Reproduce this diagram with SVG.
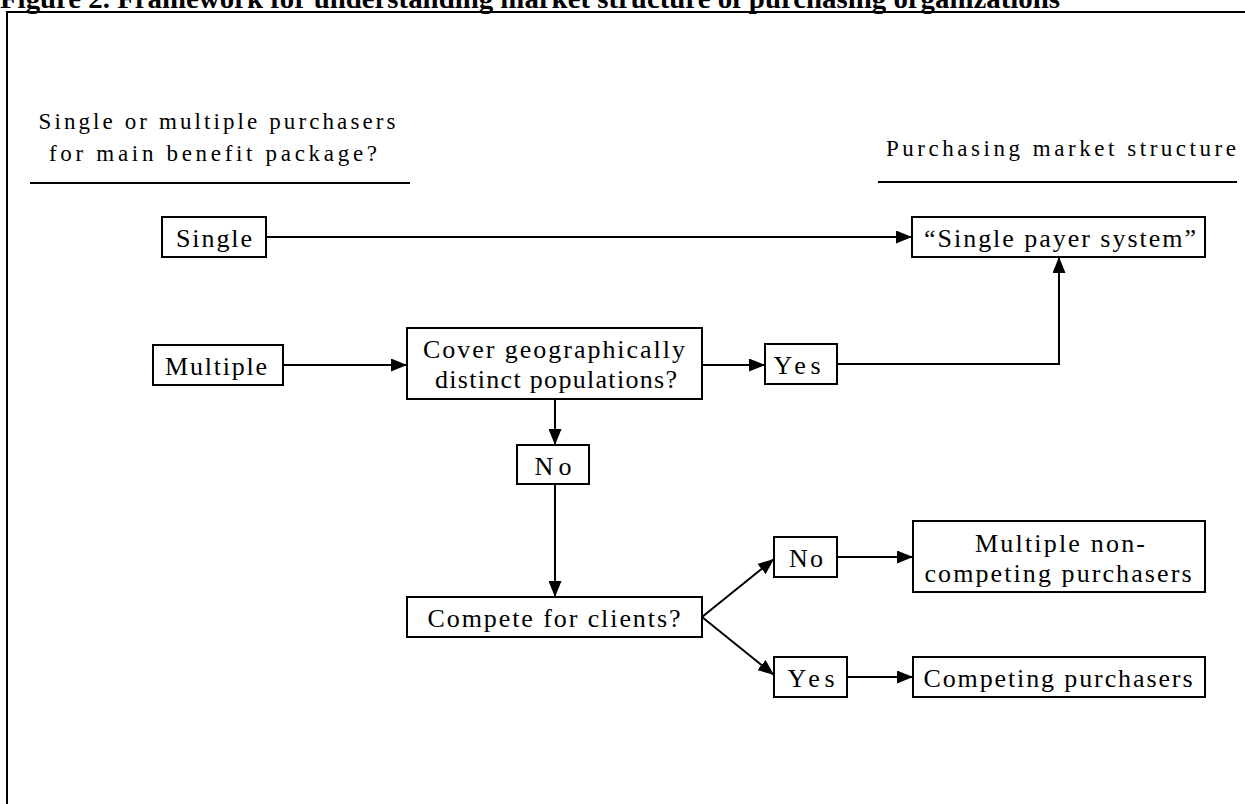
<svg xmlns="http://www.w3.org/2000/svg" width="1245" height="804" viewBox="0 0 1245 804">
<defs>
<style>
.t{font-family:"Liberation Serif","Times New Roman",serif;font-size:26px;fill:#000;text-anchor:middle}
.h{font-size:23px}
.b{fill:#fff;stroke:#000;stroke-width:2}
.c{fill:none;stroke:#000;stroke-width:2}
</style>
<marker id="ah" viewBox="0 0 16 13" refX="16" refY="6.5" markerWidth="16" markerHeight="13" markerUnits="userSpaceOnUse" orient="auto">
<path d="M0,0 L16,6.5 L0,13 Z" fill="#000"/>
</marker>
</defs>
<rect width="1245" height="804" fill="#fff"/>
<text x="0" y="8" style="font-family:'Liberation Serif','Times New Roman',serif;font-size:27px;font-weight:bold" textLength="1060" lengthAdjust="spacingAndGlyphs">Figure 2. Framework for understanding market structure of purchasing organizations</text>
<rect x="7" y="12" width="1260" height="820" class="c"/>
<g id="headings">
<text class="t h" x="217" y="129" textLength="357" lengthAdjust="spacing">Single or multiple purchasers</text>
<text class="t h" x="213" y="161" textLength="328" lengthAdjust="spacing">for main benefit package?</text>
<line x1="30" y1="183" x2="410" y2="183" class="c"/>
<text class="t h" x="1061" y="156" textLength="350" lengthAdjust="spacing">Purchasing market structure</text>
<line x1="878" y1="182" x2="1237" y2="182" class="c"/>
</g>
<g id="connectors">
<line x1="266" y1="237" x2="912" y2="237" class="c" marker-end="url(#ah)"/>
<line x1="283" y1="365" x2="407" y2="365" class="c" marker-end="url(#ah)"/>
<line x1="702" y1="365" x2="765" y2="365" class="c" marker-end="url(#ah)"/>
<polyline points="837,364 1059,364 1059,257" class="c" marker-end="url(#ah)"/>
<line x1="555" y1="399" x2="555" y2="445" class="c" marker-end="url(#ah)"/>
<line x1="555" y1="484" x2="555" y2="597" class="c" marker-end="url(#ah)"/>
<line x1="702" y1="617" x2="774" y2="559" class="c" marker-end="url(#ah)"/>
<line x1="702" y1="617" x2="774" y2="675" class="c" marker-end="url(#ah)"/>
<line x1="837" y1="557" x2="913" y2="557" class="c" marker-end="url(#ah)"/>
<line x1="847" y1="677" x2="913" y2="677" class="c" marker-end="url(#ah)"/>
</g>
<g id="single"><rect x="162" y="217" width="104" height="40" class="b"/><text class="t" x="214" y="247" textLength="76" lengthAdjust="spacing">Single</text></g>
<g id="singlepayer"><rect x="912" y="217" width="293" height="40" class="b"/><text class="t" x="1060" y="247" textLength="272" lengthAdjust="spacing">“Single payer system”</text></g>
<g id="multiple"><rect x="153" y="345" width="130" height="40" class="b"/><text class="t" x="216" y="375" textLength="102" lengthAdjust="spacing">Multiple</text></g>
<g id="cover"><rect x="407" y="328" width="295" height="71" class="b"/><text class="t" x="554" y="358" textLength="262" lengthAdjust="spacing">Cover geographically</text><text class="t" x="556" y="388" textLength="242" lengthAdjust="spacing">distinct populations?</text></g>
<g id="yes1"><rect x="765" y="344" width="72" height="40" class="b"/><text class="t" x="797" y="374" textLength="47" lengthAdjust="spacing">Yes</text></g>
<g id="no1"><rect x="517" y="445" width="72" height="39" class="b"/><text class="t" x="553" y="475" textLength="37" lengthAdjust="spacing">No</text></g>
<g id="compete"><rect x="407" y="597" width="295" height="40" class="b"/><text class="t" x="554" y="627" textLength="253" lengthAdjust="spacing">Compete for clients?</text></g>
<g id="no2"><rect x="774" y="537" width="63" height="40" class="b"/><text class="t" x="806" y="567" textLength="34" lengthAdjust="spacing">No</text></g>
<g id="yes2"><rect x="774" y="657" width="73" height="40" class="b"/><text class="t" x="811" y="687" textLength="47" lengthAdjust="spacing">Yes</text></g>
<g id="noncompeting"><rect x="913" y="521" width="292" height="71" class="b"/><text class="t" x="1060" y="552" textLength="170" lengthAdjust="spacing">Multiple non-</text><text class="t" x="1058" y="582" textLength="267" lengthAdjust="spacing">competing purchasers</text></g>
<g id="competing"><rect x="913" y="657" width="292" height="40" class="b"/><text class="t" x="1058" y="687" textLength="269" lengthAdjust="spacing">Competing purchasers</text></g>
</svg>
